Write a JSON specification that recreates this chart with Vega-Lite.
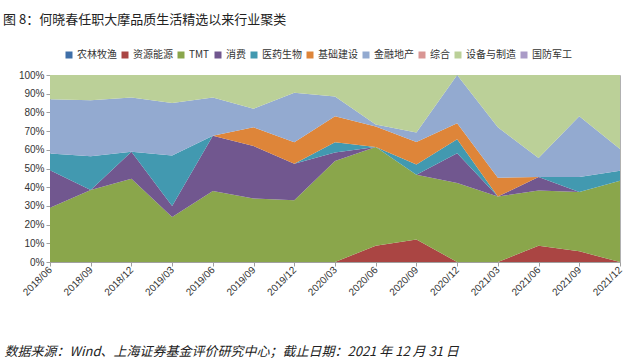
{
  "$schema": "https://vega.github.io/schema/vega-lite/v6.json",
  "width": 570,
  "height": 187,
  "autosize": {"type": "none"},
  "padding": {"left": 50, "top": 75, "right": 23, "bottom": 101},
  "background": "white",
  "title": {
    "text": "图 8：何晓春任职大摩品质生活精选以来行业聚类",
    "anchor": "start",
    "frame": "group",
    "dx": -47,
    "offset": 23,
    "font": "Noto Sans CJK SC",
    "fontSize": 13,
    "fontWeight": "normal",
    "color": "#222222"
  },
  "config": {
    "view": {"stroke": "#B0B0B0", "strokeWidth": 1},
    "font": "Liberation Sans"
  },
  "data": {
    "values": [
      {"q":"2018/06","k":"农林牧渔","v":0},{"q":"2018/06","k":"资源能源","v":0},{"q":"2018/06","k":"TMT","v":29},{"q":"2018/06","k":"消费","v":20},{"q":"2018/06","k":"医药生物","v":9},{"q":"2018/06","k":"基础建设","v":0},{"q":"2018/06","k":"金融地产","v":29},{"q":"2018/06","k":"综合","v":0},{"q":"2018/06","k":"设备与制造","v":13},{"q":"2018/06","k":"国防军工","v":0},
      {"q":"2018/09","k":"农林牧渔","v":0},{"q":"2018/09","k":"资源能源","v":0},{"q":"2018/09","k":"TMT","v":38.5},{"q":"2018/09","k":"消费","v":0},{"q":"2018/09","k":"医药生物","v":18},{"q":"2018/09","k":"基础建设","v":0},{"q":"2018/09","k":"金融地产","v":30},{"q":"2018/09","k":"综合","v":0},{"q":"2018/09","k":"设备与制造","v":13.5},{"q":"2018/09","k":"国防军工","v":0},
      {"q":"2018/12","k":"农林牧渔","v":0},{"q":"2018/12","k":"资源能源","v":0},{"q":"2018/12","k":"TMT","v":44.5},{"q":"2018/12","k":"消费","v":14.5},{"q":"2018/12","k":"医药生物","v":0},{"q":"2018/12","k":"基础建设","v":0},{"q":"2018/12","k":"金融地产","v":29},{"q":"2018/12","k":"综合","v":0},{"q":"2018/12","k":"设备与制造","v":12},{"q":"2018/12","k":"国防军工","v":0},
      {"q":"2019/03","k":"农林牧渔","v":0},{"q":"2019/03","k":"资源能源","v":0},{"q":"2019/03","k":"TMT","v":24},{"q":"2019/03","k":"消费","v":6},{"q":"2019/03","k":"医药生物","v":27},{"q":"2019/03","k":"基础建设","v":0},{"q":"2019/03","k":"金融地产","v":28},{"q":"2019/03","k":"综合","v":0},{"q":"2019/03","k":"设备与制造","v":15},{"q":"2019/03","k":"国防军工","v":0},
      {"q":"2019/06","k":"农林牧渔","v":0},{"q":"2019/06","k":"资源能源","v":0},{"q":"2019/06","k":"TMT","v":38},{"q":"2019/06","k":"消费","v":29.5},{"q":"2019/06","k":"医药生物","v":0},{"q":"2019/06","k":"基础建设","v":0},{"q":"2019/06","k":"金融地产","v":20.5},{"q":"2019/06","k":"综合","v":0},{"q":"2019/06","k":"设备与制造","v":12},{"q":"2019/06","k":"国防军工","v":0},
      {"q":"2019/09","k":"农林牧渔","v":0},{"q":"2019/09","k":"资源能源","v":0},{"q":"2019/09","k":"TMT","v":34},{"q":"2019/09","k":"消费","v":28},{"q":"2019/09","k":"医药生物","v":0},{"q":"2019/09","k":"基础建设","v":10},{"q":"2019/09","k":"金融地产","v":10},{"q":"2019/09","k":"综合","v":0},{"q":"2019/09","k":"设备与制造","v":18},{"q":"2019/09","k":"国防军工","v":0},
      {"q":"2019/12","k":"农林牧渔","v":0},{"q":"2019/12","k":"资源能源","v":0},{"q":"2019/12","k":"TMT","v":33},{"q":"2019/12","k":"消费","v":19.5},{"q":"2019/12","k":"医药生物","v":0},{"q":"2019/12","k":"基础建设","v":11.5},{"q":"2019/12","k":"金融地产","v":26.5},{"q":"2019/12","k":"综合","v":0},{"q":"2019/12","k":"设备与制造","v":9.5},{"q":"2019/12","k":"国防军工","v":0},
      {"q":"2020/03","k":"农林牧渔","v":0},{"q":"2020/03","k":"资源能源","v":0},{"q":"2020/03","k":"TMT","v":54},{"q":"2020/03","k":"消费","v":4.5},{"q":"2020/03","k":"医药生物","v":5.5},{"q":"2020/03","k":"基础建设","v":14},{"q":"2020/03","k":"金融地产","v":10.5},{"q":"2020/03","k":"综合","v":0},{"q":"2020/03","k":"设备与制造","v":11.5},{"q":"2020/03","k":"国防军工","v":0},
      {"q":"2020/06","k":"农林牧渔","v":0},{"q":"2020/06","k":"资源能源","v":8.7},{"q":"2020/06","k":"TMT","v":52.8},{"q":"2020/06","k":"消费","v":0},{"q":"2020/06","k":"医药生物","v":0},{"q":"2020/06","k":"基础建设","v":11},{"q":"2020/06","k":"金融地产","v":1},{"q":"2020/06","k":"综合","v":0},{"q":"2020/06","k":"设备与制造","v":26.5},{"q":"2020/06","k":"国防军工","v":0},
      {"q":"2020/09","k":"农林牧渔","v":0},{"q":"2020/09","k":"资源能源","v":12},{"q":"2020/09","k":"TMT","v":34.7},{"q":"2020/09","k":"消费","v":0},{"q":"2020/09","k":"医药生物","v":5.5},{"q":"2020/09","k":"基础建设","v":12},{"q":"2020/09","k":"金融地产","v":5},{"q":"2020/09","k":"综合","v":0},{"q":"2020/09","k":"设备与制造","v":30.8},{"q":"2020/09","k":"国防军工","v":0},
      {"q":"2020/12","k":"农林牧渔","v":0},{"q":"2020/12","k":"资源能源","v":0},{"q":"2020/12","k":"TMT","v":42.2},{"q":"2020/12","k":"消费","v":16},{"q":"2020/12","k":"医药生物","v":7.5},{"q":"2020/12","k":"基础建设","v":8.5},{"q":"2020/12","k":"金融地产","v":25.8},{"q":"2020/12","k":"综合","v":0},{"q":"2020/12","k":"设备与制造","v":0},{"q":"2020/12","k":"国防军工","v":0},
      {"q":"2021/03","k":"农林牧渔","v":0},{"q":"2021/03","k":"资源能源","v":0},{"q":"2021/03","k":"TMT","v":35},{"q":"2021/03","k":"消费","v":0},{"q":"2021/03","k":"医药生物","v":0},{"q":"2021/03","k":"基础建设","v":10},{"q":"2021/03","k":"金融地产","v":27},{"q":"2021/03","k":"综合","v":0},{"q":"2021/03","k":"设备与制造","v":28},{"q":"2021/03","k":"国防军工","v":0},
      {"q":"2021/06","k":"农林牧渔","v":0},{"q":"2021/06","k":"资源能源","v":8.7},{"q":"2021/06","k":"TMT","v":29.6},{"q":"2021/06","k":"消费","v":7.2},{"q":"2021/06","k":"医药生物","v":0},{"q":"2021/06","k":"基础建设","v":0},{"q":"2021/06","k":"金融地产","v":10.1},{"q":"2021/06","k":"综合","v":0},{"q":"2021/06","k":"设备与制造","v":44.4},{"q":"2021/06","k":"国防军工","v":0},
      {"q":"2021/09","k":"农林牧渔","v":0},{"q":"2021/09","k":"资源能源","v":5.7},{"q":"2021/09","k":"TMT","v":31.7},{"q":"2021/09","k":"消费","v":0},{"q":"2021/09","k":"医药生物","v":8},{"q":"2021/09","k":"基础建设","v":0},{"q":"2021/09","k":"金融地产","v":32.5},{"q":"2021/09","k":"综合","v":0},{"q":"2021/09","k":"设备与制造","v":22.1},{"q":"2021/09","k":"国防军工","v":0},
      {"q":"2021/12","k":"农林牧渔","v":0},{"q":"2021/12","k":"资源能源","v":0},{"q":"2021/12","k":"TMT","v":43.5},{"q":"2021/12","k":"消费","v":0},{"q":"2021/12","k":"医药生物","v":5.3},{"q":"2021/12","k":"基础建设","v":0},{"q":"2021/12","k":"金融地产","v":11.6},{"q":"2021/12","k":"综合","v":0},{"q":"2021/12","k":"设备与制造","v":39.6},{"q":"2021/12","k":"国防军工","v":0}
    ]
  },
  "transform": [
    {"calculate": "indexof(['农林牧渔','资源能源','TMT','消费','医药生物','基础建设','金融地产','综合','设备与制造','国防军工'], datum.k)", "as": "ord"}
  ],
  "mark": {"type": "area", "opacity": 1},
  "encoding": {
    "x": {
      "field": "q",
      "type": "ordinal",
      "scale": {"type": "point", "padding": 0},
      "axis": {
        "title": "数据来源：Wind、上海证券基金评价研究中心；截止日期：2021 年 12 月 31 日",
        "titleFont": "Noto Sans CJK SC",
        "titleFontSize": 13,
        "titleFontWeight": "normal",
        "titleFontStyle": "italic",
        "titleColor": "#222222",
        "titleAnchor": "start",
        "titleAlign": "left",
        "titleBaseline": "middle",
        "titleX": -46,
        "titleY": 89,
        "labelAngle": -45,
        "labelAlign": "right",
        "labelBaseline": "middle",
        "labelFontSize": 10,
        "labelColor": "#333333",
        "labelPadding": 2,
        "domainColor": "#A0A0A0",
        "tickColor": "#A0A0A0",
        "tickSize": 4,
        "grid": false
      }
    },
    "y": {
      "field": "v",
      "type": "quantitative",
      "stack": "zero",
      "scale": {"domain": [0, 100], "nice": false},
      "axis": {
        "title": null,
        "values": [0,10,20,30,40,50,60,70,80,90,100],
        "labelExpr": "datum.value + '%'",
        "labelFontSize": 10,
        "labelColor": "#333333",
        "labelPadding": 2,
        "domainColor": "#A0A0A0",
        "tickColor": "#A0A0A0",
        "tickSize": 4,
        "grid": false
      }
    },
    "color": {
      "field": "k",
      "type": "nominal",
      "scale": {
        "domain": ["农林牧渔","资源能源","TMT","消费","医药生物","基础建设","金融地产","综合","设备与制造","国防军工"],
        "range": ["#3F6FA8","#AA4543","#8AA64B","#71578F","#4299B0","#DE8539","#93AAD0","#D99694","#BBD098","#AA9BC7"]
      },
      "legend": {
        "title": null,
        "orient": "none",
        "direction": "horizontal",
        "columns": 10,
        "legendX": 14,
        "legendY": -25,
        "symbolType": "square",
        "symbolSize": 49,
        "symbolStrokeWidth": 0,
        "labelFont": "Noto Sans CJK SC",
        "labelFontSize": 10,
        "labelColor": "#333333",
        "labelOffset": 3,
        "columnPadding": 3
      }
    },
    "order": {"field": "ord", "type": "quantitative"}
  }
}
